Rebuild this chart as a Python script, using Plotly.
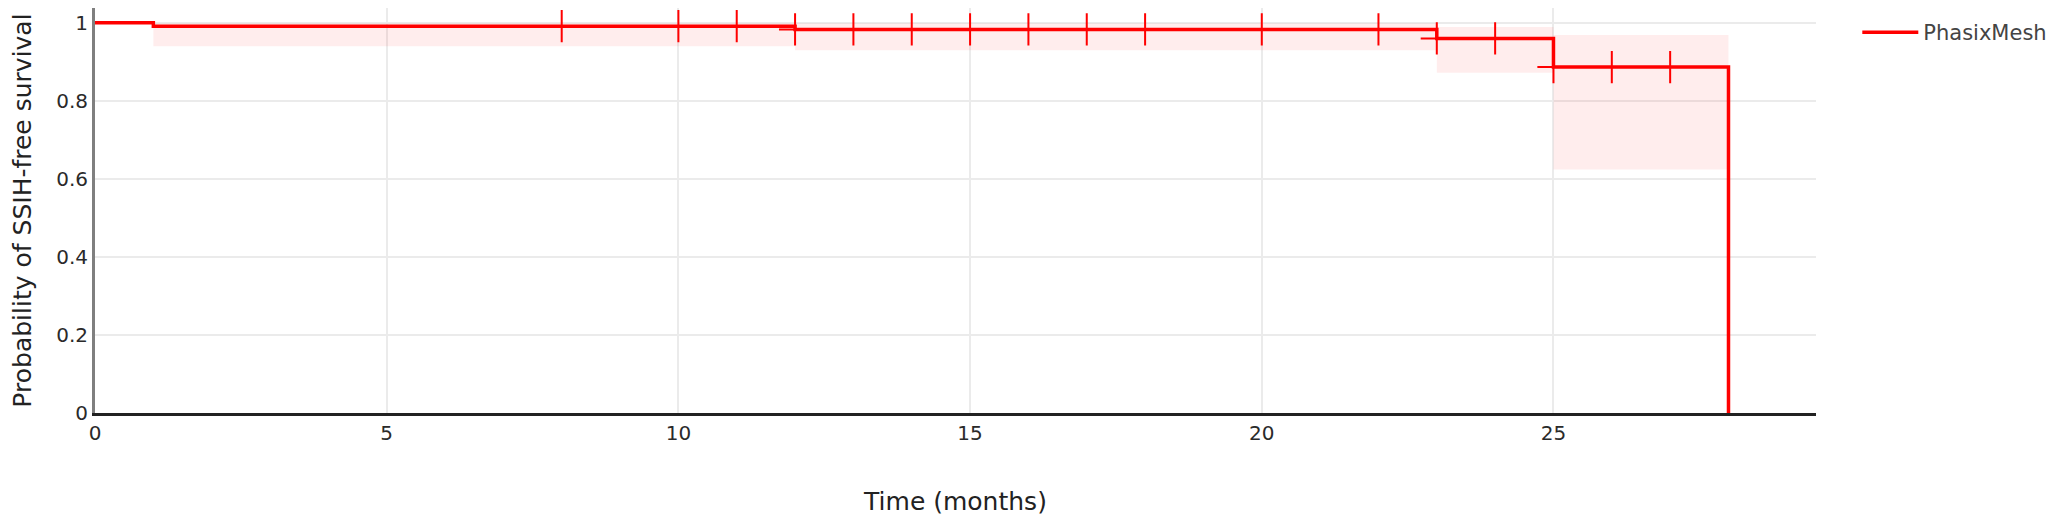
import plotly.graph_objects as go

# Kaplan-Meier step points (time in months)
step_times = [0, 1, 12, 23, 25, 28]
survival = [1.0, 0.9915, 0.983, 0.960, 0.8865, 0.0]

# 95% CI band per step (last value repeated to close the band at t=28)
ci_times = [0, 1, 12, 23, 25, 28]
ci_upper = [1.0, 0.999, 0.999, 0.989, 0.969, 0.969]
ci_lower = [1.0, 0.940, 0.930, 0.872, 0.624, 0.624]

# censored observations
censor_times = [8, 10, 11, 12, 13, 14, 15, 16, 17, 18, 20, 22, 23, 24, 25, 26, 27]

x_ticks = [0, 5, 10, 15, 20, 25]
y_ticks = [0, 0.2, 0.4, 0.6, 0.8, 1]

RED = "#ff0000"
FONT = "DejaVu Sans"


def surv_at(t):
    # value of the step curve at time t (right-continuous)
    val = survival[0]
    for st, sv in zip(step_times[:-1], survival[:-1]):
        if t >= st:
            val = sv
    return val


censor_surv = [surv_at(t) for t in censor_times]

fig = go.Figure()

# ── CI band
fig.add_trace(go.Scatter(
    x=ci_times, y=ci_upper, mode="lines", line_shape="hv",
    line=dict(width=0, color=RED), showlegend=False, hoverinfo="skip",
))
fig.add_trace(go.Scatter(
    x=ci_times, y=ci_lower, mode="lines", line_shape="hv",
    line=dict(width=0, color=RED), fill="tonexty",
    fillcolor="rgba(255,0,0,0.07)", showlegend=False, hoverinfo="skip",
))

# ── survival curve
fig.add_trace(go.Scatter(
    x=step_times, y=survival, mode="lines", line_shape="hv",
    name="PhasixMesh", line=dict(color=RED, width=3.5),
))

# ── censor marks
fig.add_trace(go.Scatter(
    x=censor_times, y=censor_surv, mode="markers",
    marker=dict(symbol="cross-thin", size=23, line=dict(color=RED, width=2)),
    showlegend=False,
))

# page body has an 8px margin, so the figure is sized to compensate
fig.update_layout(
    width=2048, height=509,
    margin=dict(l=87, r=240, t=0, b=104),
    paper_bgcolor="white", plot_bgcolor="white",
    font=dict(family=FONT, size=20, color="#2a2a2a"),
    legend=dict(font=dict(size=21, color="#444"), itemwidth=56, x=1.024, y=0.99),
)
fig.update_xaxes(
    range=[0, 29.5], tickvals=x_ticks, automargin=False,
    showgrid=True, gridcolor="#ebebeb", gridwidth=2,
    showline=True, linecolor="#222", linewidth=3,
    zeroline=False, ticks="",
    title=dict(text="Time (months)", font=dict(size=25, color="#222"), standoff=49),
)
fig.update_yaxes(
    range=[0, 1.038], tickvals=y_ticks, ticktext=["0", "0.2", "0.4", "0.6", "0.8", "1"],
    automargin=False,
    showgrid=True, gridcolor="#ebebeb", gridwidth=2,
    showline=True, linecolor="#7f7f7f", linewidth=3,
    zeroline=False, ticks="",
    title=dict(text="Probability of SSIH-free survival", font=dict(size=25, color="#222"), standoff=39),
)

fig.write_html("out.html")
